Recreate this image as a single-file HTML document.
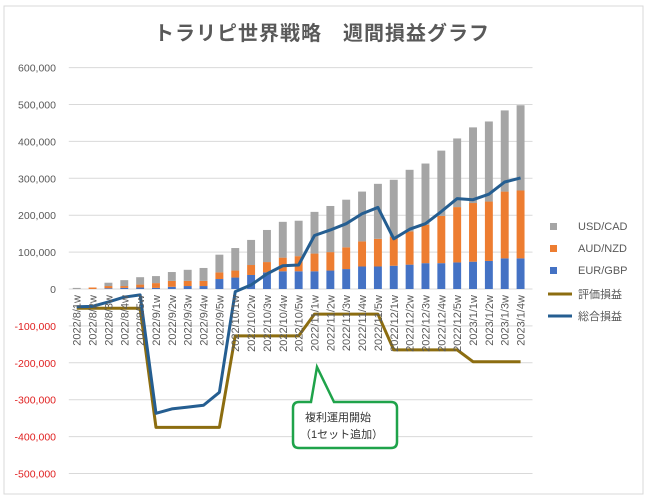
<!DOCTYPE html>
<html><head><meta charset="utf-8"><style>
html,body{margin:0;padding:0;background:#fff}
svg{display:block;font-family:"Liberation Sans","Noto Sans CJK JP",sans-serif}
</style></head><body>
<svg id="chart" width="648" height="500" viewBox="0 0 648 500">
<rect x="4" y="6" width="639" height="488" fill="#fff" stroke="#d9d9d9"/>
<text x="322" y="40" text-anchor="middle" font-size="20" font-weight="bold" fill="#595959" letter-spacing="1">トラリピ世界戦略　週間損益グラフ</text>
<g id="grid"></g><g id="bars"></g><g id="lines"></g><g id="xlabels"></g>
<g>
<g><rect x="550" y="223" width="7" height="7" fill="#a5a5a5"/><text x="578" y="230" font-size="11" fill="#595959">USD/CAD</text></g>
<g><rect x="550" y="245" width="7" height="7" fill="#ed7d31"/><text x="578" y="252" font-size="11" fill="#595959">AUD/NZD</text></g>
<g><rect x="550" y="267" width="7" height="7" fill="#4472c4"/><text x="578" y="274" font-size="11" fill="#595959">EUR/GBP</text></g>
<g><line x1="548" y1="294" x2="572" y2="294" stroke="#8c6d10" stroke-width="3"/><text x="578" y="298" font-size="11" fill="#595959">評価損益</text></g>
<g><line x1="548" y1="316" x2="572" y2="316" stroke="#255e91" stroke-width="3"/><text x="578" y="320" font-size="11" fill="#595959">総合損益</text></g>
</g>
<g>
<path d="M299,402 L311,402 L317,367 L334,402 L391,402 Q397,402 397,408 L397,442 Q397,448 391,448 L299,448 Q293,448 293,442 L293,408 Q293,402 299,402 Z" fill="#fff" stroke="#1fa34a" stroke-width="2.5"/>
<text x="305" y="421" font-size="11" fill="#333">複利運用開始</text>
<text x="300" y="438" font-size="11" fill="#333">（1セット追加）</text>
</g>
</svg>
<script>
const categories=["2022/8/1w","2022/8/2w","2022/8/3w","2022/8/4w","2022/8/5w","2022/9/1w","2022/9/2w","2022/9/3w","2022/9/4w","2022/9/5w","2022/10/1w","2022/10/2w","2022/10/3w","2022/10/4w","2022/10/5w","2022/11/1w","2022/11/2w","2022/11/3w","2022/11/4w","2022/11/5w","2022/12/1w","2022/12/2w","2022/12/3w","2022/12/4w","2022/12/5w","2023/1/1w","2023/1/2w","2023/1/3w","2023/1/4w"];
const eurgbp=[0,0,2000,3000,4000,3000,6000,8000,8000,27000,31000,38000,45000,48000,48000,48000,50000,54000,61000,61000,63000,66000,70000,70000,72000,74000,76000,83000,83000];
const audnzd=[0,4000,6000,5000,8000,13000,16000,14000,14000,18000,19000,27000,28000,37000,41000,48000,50000,59000,68000,75000,79000,90000,104000,128000,150000,159000,161000,181000,184000];
const usdcad=[3000,0,9000,16000,20000,19000,24000,30000,35000,48000,61000,68000,87000,97000,96000,113000,125000,129000,135000,149000,154000,167000,166000,177000,186000,205000,217000,220000,231000];
const hyoka=[-52000,-52000,-52000,-52000,-52000,-375000,-375000,-375000,-375000,-375000,-127000,-127000,-127000,-127000,-127000,-68000,-68000,-68000,-68000,-68000,-165000,-165000,-165000,-165000,-165000,-197000,-197000,-197000,-197000];
const sogo=[-48000,-47000,-35000,-22000,-16000,-337000,-325000,-320000,-315000,-280000,-7000,11000,41000,63000,65000,145000,160000,177000,204000,221000,136000,162000,177000,210000,245000,242000,257000,290000,301000];
const yTicks=[600000,500000,400000,300000,200000,100000,0,-100000,-200000,-300000,-400000,-500000];
const NS="http://www.w3.org/2000/svg";
const X0=68.8,X1=528.5,Y0=289,PX=0.000369;
const step=(X1-X0)/categories.length;
const xc=i=>X0+step*(i+0.5);
const y=v=>Y0-v*PX;
function mk(t,a,p){const e=document.createElementNS(NS,t);for(const k in a)e.setAttribute(k,a[k]);p.appendChild(e);return e;}
const grid=document.getElementById('grid');
yTicks.forEach(v=>{
 const l=mk('line',{x1:X0,x2:X1+4,y1:y(v),y2:y(v),stroke:'#d9d9d9','stroke-width':1},grid);
 
 
 const t=mk('text',{x:56,y:y(v)+4,'text-anchor':'end','font-size':10.5,fill:v<0?'#e02020':'#595959'},grid);
 t.textContent=v.toLocaleString('en-US');
 
 
});
const bars=document.getElementById('bars');
const bw=step*0.5;
categories.forEach((c,i)=>{
 let base=0;
 [[eurgbp,'#4472c4','bar-eurgbp'],[audnzd,'#ed7d31','bar-audnzd'],[usdcad,'#a5a5a5','bar-usdcad']].forEach(([arr,col,nm])=>{
  const v=arr[i];
  const r=mk('rect',{x:xc(i)-bw/2,y:y(base+v),width:bw,height:Math.max(0,y(base)-y(base+v)),fill:col},bars);
  
  
  base+=v;
 });
 const t=mk('text',{transform:`translate(${xc(i)+4},${Y0+6}) rotate(-90)`,'text-anchor':'end','font-size':11,fill:'#595959'},document.getElementById('xlabels'));
 t.textContent=c;
 
 
});
const lines=document.getElementById('lines');
[[hyoka,'#8c6d10','line-hyoka'],[sogo,'#255e91','line-sogo']].forEach(([arr,col,nm])=>{
 const p=mk('polyline',{points:arr.map((v,i)=>xc(i)+','+y(v)).join(' '),fill:'none',stroke:col,'stroke-width':3,'stroke-linejoin':'round'},lines);
 
 
});
</script>
</body></html>
